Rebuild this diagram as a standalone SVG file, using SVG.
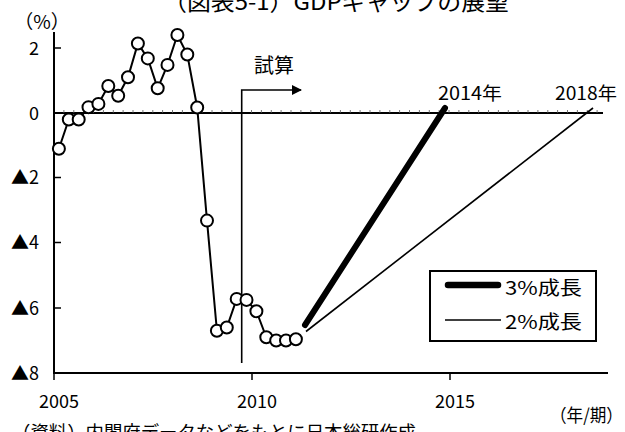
<svg xmlns="http://www.w3.org/2000/svg" width="625" height="432" viewBox="0 0 625 432">
<style>
text{font-family:"Noto Sans CJK JP","Noto Sans",sans-serif;fill:#000}
.ax{stroke:#000;stroke-width:2;fill:none}
.tk{stroke:#000;stroke-width:1.5}
.mt{stroke:#555;stroke-width:0.8}
.ylab{font-size:18px;text-anchor:end}
.xlab{font-size:18px;text-anchor:middle}
.pt{fill:#fff;stroke:#000;stroke-width:2}
</style>
<defs>
<marker id="ah" viewBox="0 0 10 10" refX="9" refY="5" markerWidth="11" markerHeight="10" markerUnits="userSpaceOnUse" orient="auto">
<path d="M0,0 L10,5 L0,10 z" fill="#000"/>
</marker>
</defs>
<rect width="625" height="432" fill="#fff"/>
<text id="title" x="163" y="10" font-size="22" textLength="346" lengthAdjust="spacingAndGlyphs">（図表5-1）GDPギャップの展望</text>
<g id="axes">
<line class="ax" x1="54" y1="32" x2="54" y2="374"/>
<line class="ax" x1="53" y1="373" x2="608" y2="373"/>
<line class="ax" x1="54" y1="113" x2="603" y2="113"/>
<line class="tk" x1="54" y1="48" x2="61" y2="48"/>
<line class="tk" x1="54" y1="177.5" x2="61" y2="177.5"/>
<line class="tk" x1="54" y1="242.5" x2="61" y2="242.5"/>
<line class="tk" x1="54" y1="308" x2="61" y2="308"/>
<line class="tk" x1="252" y1="373" x2="252" y2="380"/>
<line class="tk" x1="450" y1="373" x2="450" y2="380"/>
<line class="tk" x1="54" y1="373" x2="54" y2="380"/>
<g id="minor-ticks" class="mt">
<path d="M63.9 113v-3M73.8 113v-3M83.6 113v-3M93.5 113v-3M103.4 113v-3M113.3 113v-3M123.1 113v-3M133 113v-3M142.9 113v-3M152.8 113v-3M162.6 113v-3M172.5 113v-3M182.4 113v-3M192.3 113v-3M202.1 113v-3M212 113v-3M221.9 113v-3M231.8 113v-3M241.6 113v-3M251.5 113v-3M261.4 113v-3M271.3 113v-3M281.1 113v-3M291 113v-3M300.9 113v-3M310.8 113v-3M320.6 113v-3M330.5 113v-3M340.4 113v-3M350.3 113v-3M360.1 113v-3M370 113v-3M379.9 113v-3M389.8 113v-3M399.6 113v-3M409.5 113v-3M419.4 113v-3M429.3 113v-3M439.1 113v-3M449 113v-3M458.9 113v-3M468.8 113v-3M478.6 113v-3M488.5 113v-3M498.4 113v-3M508.3 113v-3M518.1 113v-3M528 113v-3M537.9 113v-3M547.8 113v-3M557.6 113v-3M567.5 113v-3M577.4 113v-3M587.3 113v-3M597.1 113v-3"/>
</g>
<text x="42" y="28.5" font-size="19" text-anchor="middle">（%）</text>
<text class="ylab" x="39" y="54.5">2</text>
<text class="ylab" x="39" y="119.5">0</text>
<text class="ylab" x="39" y="184">▲2</text>
<text class="ylab" x="39" y="249">▲4</text>
<text class="ylab" x="39" y="314.5">▲6</text>
<text class="ylab" x="39" y="379.5">▲8</text>
<text class="xlab" x="59" y="407.5">2005</text>
<text class="xlab" x="257" y="407.5">2010</text>
<text class="xlab" x="455" y="407.5">2015</text>
<text x="550" y="421.5" font-size="18" textLength="73" lengthAdjust="spacingAndGlyphs">（年/期）</text>
</g>
<g id="connectors">
<polyline fill="none" stroke="#000" stroke-width="2" points="58.9,148.75 68.8,119.5 78.7,119.5 88.5,107.15 98.4,103.9 108.3,86 118.2,95.8 128,77.25 137.9,43.45 147.8,58.4 157.7,88.3 167.5,64.9 177.4,35 187.3,54.5 197.2,107.5 207,220.6 216.9,330.75 226.8,327.5 236.7,298.9 246.5,299.9 256.4,311.25 266.3,337.25 276.2,340.5 286,340.5 295.9,339.2"/>
<line id="proj3" x1="305" y1="325" x2="445" y2="108" stroke="#000" stroke-width="6" stroke-linecap="round"/>
<line id="proj2" x1="306" y1="331.5" x2="593" y2="108" stroke="#000" stroke-width="1.6"/>
<path id="shisan-line" d="M241.7,363 V90 H301" fill="none" stroke="#000" stroke-width="1.6" marker-end="url(#ah)"/>
</g>
<g id="points">
<circle class="pt" cx="58.9" cy="148.75" r="6"/>
<circle class="pt" cx="68.8" cy="119.5" r="6"/>
<circle class="pt" cx="78.7" cy="119.5" r="6"/>
<circle class="pt" cx="88.5" cy="107.15" r="6"/>
<circle class="pt" cx="98.4" cy="103.9" r="6"/>
<circle class="pt" cx="108.3" cy="86" r="6"/>
<circle class="pt" cx="118.2" cy="95.8" r="6"/>
<circle class="pt" cx="128" cy="77.25" r="6"/>
<circle class="pt" cx="137.9" cy="43.45" r="6"/>
<circle class="pt" cx="147.8" cy="58.4" r="6"/>
<circle class="pt" cx="157.7" cy="88.3" r="6"/>
<circle class="pt" cx="167.5" cy="64.9" r="6"/>
<circle class="pt" cx="177.4" cy="35" r="6"/>
<circle class="pt" cx="187.3" cy="54.5" r="6"/>
<circle class="pt" cx="197.2" cy="107.5" r="6"/>
<circle class="pt" cx="207" cy="220.6" r="6"/>
<circle class="pt" cx="216.9" cy="330.75" r="6"/>
<circle class="pt" cx="226.8" cy="327.5" r="6"/>
<circle class="pt" cx="236.7" cy="298.9" r="6"/>
<circle class="pt" cx="246.5" cy="299.9" r="6"/>
<circle class="pt" cx="256.4" cy="311.25" r="6"/>
<circle class="pt" cx="266.3" cy="337.25" r="6"/>
<circle class="pt" cx="276.2" cy="340.5" r="6"/>
<circle class="pt" cx="286" cy="340.5" r="6"/>
<circle class="pt" cx="295.9" cy="339.2" r="6"/>
</g>
<g id="labels">
<text x="274" y="72.5" font-size="20" text-anchor="middle">試算</text>
<text x="438" y="100" font-size="18" textLength="64" lengthAdjust="spacingAndGlyphs">2014年</text>
<text x="555" y="100" font-size="18" textLength="62" lengthAdjust="spacingAndGlyphs">2018年</text>
</g>
<g id="legend">
<rect x="430" y="271" width="166" height="70" fill="#fff" stroke="#000" stroke-width="2"/>
<line x1="448" y1="285" x2="498" y2="285" stroke="#000" stroke-width="6.5" stroke-linecap="round"/>
<text x="505" y="294.5" font-size="19" textLength="77" lengthAdjust="spacingAndGlyphs">3%成長</text>
<line x1="445" y1="320" x2="501" y2="320" stroke="#000" stroke-width="1.6"/>
<text x="505" y="328.5" font-size="19" textLength="77" lengthAdjust="spacingAndGlyphs">2%成長</text>
</g>
<text id="source" x="12" y="439" font-size="18" textLength="404" lengthAdjust="spacingAndGlyphs">（資料）内閣府データなどをもとに日本総研作成</text>
</svg>
